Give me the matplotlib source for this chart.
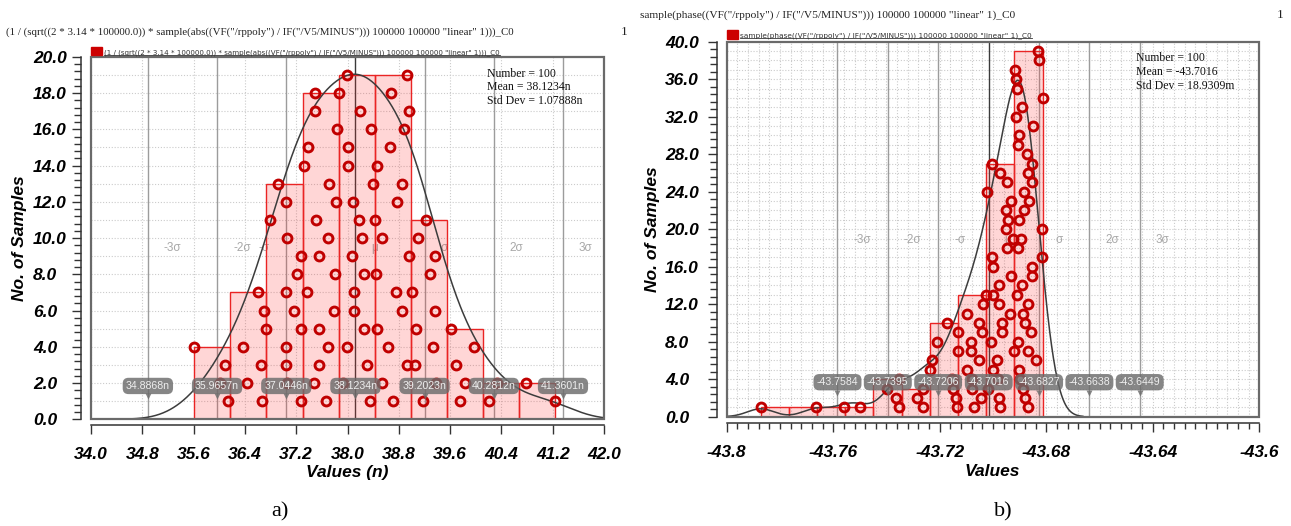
import numpy as np
import matplotlib
matplotlib.use('Agg')
import matplotlib.pyplot as plt
from matplotlib.patches import Rectangle
from matplotlib.lines import Line2D
import matplotlib.transforms as mtransforms
from matplotlib.ticker import MultipleLocator, FixedLocator, FuncFormatter

# ---------------- data ----------------
# samples per histogram bin, listed bottom (1) to top (n) as they are stacked
left_bins = [
    [36.142, 36.012, 36.090, 35.611],
    [36.672, 36.433, 36.651, 36.365, 36.729, 36.703, 36.599],
    [37.270, 37.051, 37.046, 37.046, 37.270, 37.166, 37.036, 37.207, 37.270, 37.062, 36.797, 37.041, 36.921],
    [37.660, 37.472, 37.550, 37.691, 37.550, 37.784, 37.368, 37.800, 37.550, 37.691, 37.514, 37.816, 37.706,
     37.327, 37.389, 37.842, 37.493, 37.493],
    [38.346, 37.935, 38.309, 37.997, 38.257, 38.107, 38.107, 38.257, 38.075, 38.231, 38.174, 38.091, 38.392,
     38.013, 38.013, 38.366, 38.195, 37.873, 37.997],
    [38.715, 38.543, 38.923, 38.637, 38.455, 38.845, 38.756, 38.444, 38.954, 38.543, 38.434, 38.767, 38.850,
     38.455, 38.663, 38.881, 38.954, 38.673, 38.923],
    [39.177, 39.375, 39.058, 39.328, 39.063, 39.365, 39.006, 39.287, 39.370, 39.099, 39.224],
    [39.754, 39.832, 39.692, 39.978, 39.619],
    [40.212, 40.326],
    [41.236, 40.784],
]
right_bins = [
    [-43.78723],
    [-43.76647],
    [-43.75584],
    [-43.74994],
    [-43.73530, -43.73643, -43.73992, -43.73530],
    [-43.72640, -43.72865, -43.72617],
    [-43.71364, -43.71389, -43.71490, -43.71527, -43.72366, -43.72303, -43.71327, -43.72090, -43.71327, -43.71740],
    [-43.70701, -43.70451, -43.70801, -43.70801, -43.70989, -43.70513, -43.70839, -43.70826, -43.70401, -43.70513,
     -43.70964, -43.70388, -43.70275],
    [-43.69737, -43.69775, -43.70175, -43.69800, -43.69987, -43.69862, -43.69211, -43.70088, -43.69649, -43.69649,
     -43.69362, -43.69775, -43.69987, -43.69762, -43.69337, -43.69987, -43.70025, -43.69462, -43.69236, -43.69524,
     -43.69424, -43.69524, -43.69337, -43.70238, -43.69462, -43.69737, -43.70025],
    [-43.68698, -43.68798, -43.68861, -43.68986, -43.69024, -43.68385, -43.68698, -43.69049, -43.68586, -43.68798,
     -43.68886, -43.68673, -43.69111, -43.68924, -43.68523, -43.68548, -43.68147, -43.69074, -43.68961, -43.68147,
     -43.69024, -43.68848, -43.68648, -43.68823, -43.68548, -43.68673, -43.68548, -43.68736, -43.69074, -43.69024,
     -43.68485, -43.69149, -43.68924, -43.68135, -43.69111, -43.69136, -43.69174, -43.68260, -43.68298],
]
left_sigma_vals = [34.8868, 35.9657, 37.0446, 38.1234, 39.2023, 40.2812, 41.3601]
right_sigma_vals = [-43.7584, -43.7395, -43.7206, -43.7016, -43.6827, -43.6638, -43.6449]
sigma_names = ["-3σ", "-2σ", "-σ", "μ", "σ", "2σ", "3σ"]
left_stats = ["Number = 100", "Mean = 38.1234n", "Std Dev = 1.07888n"]
right_stats = ["Number = 100", "Mean = -43.7016", "Std Dev = 18.9309m"]
left_title = '(1 / (sqrt((2 * 3.14 * 100000.0)) * sample(abs((VF("/rppoly") / IF("/V5/MINUS"))) 100000 100000 "linear" 1)))_C0'
right_title = 'sample(phase((VF("/rppoly") / IF("/V5/MINUS"))) 100000 100000 "linear" 1)_C0'
left_xticks = [34.0, 34.8, 35.6, 36.4, 37.2, 38.0, 38.8, 39.6, 40.4, 41.2, 42.0]
right_xticks = [-43.8, -43.76, -43.72, -43.68, -43.64, -43.6]
left_xlim, left_ylim = (34.0, 42.0), (0.0, 20.0)
right_xlim, right_ylim = (-43.8, -43.6), (0.0, 40.0)

# ---------------- layout helpers ----------------
W, H = 1291, 526
plt.rcParams['font.family'] = ['Liberation Sans', 'DejaVu Sans']
plt.rcParams['font.weight'] = 'bold'
plt.rcParams['font.style'] = 'italic'
fig = plt.figure(figsize=(W / 100, H / 100), dpi=100)


def fx(px):
    return px / W


def fy(py):
    return 1 - py / H


PT = 0.72  # points per pixel at dpi 100
TICK_SIZE = 12.5
RED_DOT = '#c00000'
SANS = ['Liberation Sans', 'DejaVu Sans']


def kde_curve(vals, binw):
    v = np.asarray(vals)
    n = len(v)
    sd = v.std(ddof=1)
    q75, q25 = np.percentile(v, [75, 25])
    h = 0.9 * min(sd, (q75 - q25) / 1.34) * n ** -0.2
    xs = np.linspace(v.min() - 3 * h, v.max() + 3 * h, 800)
    ys = binw / (h * np.sqrt(2 * np.pi)) * np.exp(-(xs[:, None] - v[None, :]) ** 2 / (2 * h * h)).sum(axis=1)
    return xs, ys


def panel(box_px, bins, xlim, ylim, xticks, xminor, xgrid, ymajor, yminor, sig_vals, unit,
          xfmt, ylab_left_px, yspine_px, xspine_px, neg_sigma_left):
    l, t, r, b = box_px
    ax = fig.add_axes([fx(l), fy(b), (r - l) / W, (b - t) / H])
    ax.set_xlim(*xlim)
    ax.set_ylim(*ylim)
    ax.patch.set_alpha(0)
    trans = mtransforms.blended_transform_factory(ax.transData, ax.transAxes)

    # dotted grid
    ngrid = int(round((xlim[1] - xlim[0]) / xgrid))
    for x in np.linspace(xlim[0], xlim[1], ngrid + 1):
        ax.axvline(x, color='#cbcbcb', lw=0.8, ls=(0, (1, 1.6)), zorder=0)
    for y in np.arange(1, ylim[1]):
        ax.axhline(y, color='#cbcbcb', lw=0.8, ls=(0, (1, 1.6)), zorder=0)

    # sigma lines + names
    for i, (v, name) in enumerate(zip(sig_vals, sigma_names)):
        ax.axvline(v, color='#3a3a3a' if i == 3 else '#9c9c9c', lw=1.0, zorder=1)
        if i == 2 and neg_sigma_left:
            off, ha = -17, 'right'
        else:
            off, ha = 16, 'left'
        ax.annotate(name, xy=(v, 0.472), xycoords=trans, xytext=(off * PT, 0), textcoords='offset points',
                    ha=ha, va='center', color='#a8a8a8', fontsize=8.5, family=SANS,
                    style='normal', weight='normal', zorder=1.5)

    # histogram bars from the samples
    allv = np.concatenate([np.asarray(bv) for bv in bins])
    edges = np.linspace(allv.min(), allv.max(), len(bins) + 1)
    binw = edges[1] - edges[0]
    heights = [len(bv) for bv in bins]
    ax.bar(edges[:-1], heights, width=binw, align='edge', color=(1, 0.15, 0.15, 0.19),
           edgecolor='#ea2424', lw=1.0, zorder=2)

    # density curve
    xs, ys = kde_curve(allv, binw)
    ax.plot(xs, ys, color='#3c3c3c', lw=1.1, zorder=3)

    # sample dots
    for bv in bins:
        ax.plot(bv, np.arange(1, len(bv) + 1), ls='none', marker='o', ms=6.4, mfc='none',
                mec=RED_DOT, mew=2.1, zorder=4)

    # value call-outs
    for v in sig_vals:
        ax.text(v, 0.092, f"{v:.4f}{unit}", transform=trans, ha='center', va='center', fontsize=7.6,
                family=SANS, style='normal', weight='normal', color='#eeeeee', zorder=6,
                bbox=dict(boxstyle='round,pad=0.3,rounding_size=0.55', fc='#6c6c6c', ec='none', alpha=0.82))
        ax.plot([v], [0.064], marker='v', ms=5, color='#6c6c6c', alpha=0.82, transform=trans,
                clip_on=False, zorder=6, mec='none')

    # frame
    ax.add_patch(Rectangle((0, 0), 1, 1, transform=ax.transAxes, fill=False, ec='#6a6a6a', lw=1.6,
                           zorder=7, clip_on=False))
    for s in ('top', 'right'):
        ax.spines[s].set_visible(False)
    ax.spines['left'].set_position(('outward', (l - yspine_px) * PT))
    ax.spines['bottom'].set_position(('outward', (xspine_px - b) * PT))
    for s in ('left', 'bottom'):
        ax.spines[s].set_color('#333333')
        ax.spines[s].set_linewidth(1.1)

    ax.xaxis.set_major_locator(FixedLocator(xticks))
    if xminor:
        nmin = int(round((xlim[1] - xlim[0]) / xminor))
        ax.xaxis.set_minor_locator(FixedLocator(np.linspace(xlim[0], xlim[1], nmin + 1)))
    ax.yaxis.set_major_locator(MultipleLocator(ymajor))
    ax.yaxis.set_minor_locator(MultipleLocator(yminor))
    ax.xaxis.set_major_formatter(FuncFormatter(xfmt))
    ax.yaxis.set_major_formatter(FuncFormatter(lambda v, p: f"{v:.1f}"))
    ax.tick_params(axis='x', which='major', length=9 * PT, width=1.0, color='#333333', pad=9.5,
                   labelsize=TICK_SIZE)
    ax.tick_params(axis='x', which='minor', length=5.5 * PT, width=1.0, color='#333333')
    ypad = (yspine_px - 9 - ylab_left_px) * PT
    ax.tick_params(axis='y', which='major', length=9 * PT, width=1.0, color='#333333', pad=ypad,
                   labelsize=TICK_SIZE)
    ax.tick_params(axis='y', which='minor', length=7 * PT, width=1.0, color='#333333')
    for lab in ax.get_yticklabels():
        lab.set_horizontalalignment('left')
    return ax


axL = panel((91, 56.8, 604, 419.3), left_bins, left_xlim, left_ylim, left_xticks, None, 0.8, 2.0, 0.4,
            left_sigma_vals, 'n', lambda v, p: f"{v:.1f}", 33, 81, 425, True)
axR = panel((726.7, 41.7, 1259.3, 416.7), right_bins, right_xlim, right_ylim, right_xticks, 0.004, 0.004,
            4.0, 0.8, right_sigma_vals, '', lambda v, p: (f"{v:.2f}".rstrip('0')), 665, 717, 422.7, False)

# stats boxes
for i, s in enumerate(left_stats):
    fig.text(fx(486.7), fy(74 + 13.3 * i), s, family='Liberation Serif', style='normal', weight='normal',
             size=8.5, va='center', ha='left', color='#111111')
for i, s in enumerate(right_stats):
    fig.text(fx(1135.7), fy(58.3 + 13.9 * i), s, family='Liberation Serif', style='normal', weight='normal',
             size=8.5, va='center', ha='left', color='#111111')

# axis labels
lab_kw = dict(family='Liberation Sans', weight='bold', style='italic', size=12.5, ha='center', va='center')
fig.text(fx(347), fy(472.7), 'Values (n)', **lab_kw)
fig.text(fx(992.7), fy(471.7), 'Values', **lab_kw)
fig.text(fx(20), fy(238), 'No. of Samples', rotation=90, **lab_kw)
fig.text(fx(653), fy(229), 'No. of Samples', rotation=90, **lab_kw)

# captions
cap_kw = dict(family='Liberation Serif', weight='normal', style='normal', size=16, ha='center', va='center')
fig.text(fx(280), fy(511.7), 'a)', **cap_kw)
fig.text(fx(1003), fy(511.7), 'b)', **cap_kw)

# titles and legends
ser_kw = dict(family='Liberation Serif', weight='normal', style='normal', va='center', color='#222222')
tL = fig.text(fx(6), fy(31.7), left_title, size=9.5, ha='left', **ser_kw)
tR = fig.text(fx(640), fy(15), right_title, size=9.5, ha='left', **ser_kw)
fig.text(fx(624), fy(31.7), '1', size=9.5, ha='center', **ser_kw)
fig.text(fx(1280), fy(15), '1', size=9.5, ha='center', **ser_kw)

leg_kw = dict(family='DejaVu Sans', weight='normal', style='normal', va='center', ha='left', color='#333333')
gL = fig.text(fx(104), fy(52.7), left_title, size=5.5, **leg_kw)
gR = fig.text(fx(740), fy(36), right_title, size=5.5, **leg_kw)
fig.add_artist(Rectangle((fx(90.6), fy(55)), 11.4 / W, 8.3 / H, transform=fig.transFigure, color='#cc0000'))
fig.add_artist(Rectangle((fx(726.5), fy(38.5)), 11.6 / W, 8.0 / H, transform=fig.transFigure, color='#cc0000'))

fig.canvas.draw()
r = fig.canvas.get_renderer()
for t, target in ((tL, 514), (tR, 380), (gL, 397), (gR, 291)):
    w = t.get_window_extent(r).width
    t.set_fontsize(t.get_fontsize() * target / w)
fig.canvas.draw()
for g in (gL, gR):
    bb = g.get_window_extent(r)
    yline = (bb.y0 + 1.0) / H
    fig.add_artist(Line2D([bb.x0 / W, bb.x1 / W], [yline, yline], transform=fig.transFigure,
                          color='#333333', lw=0.6))

fig.savefig('out.png', dpi=100)
